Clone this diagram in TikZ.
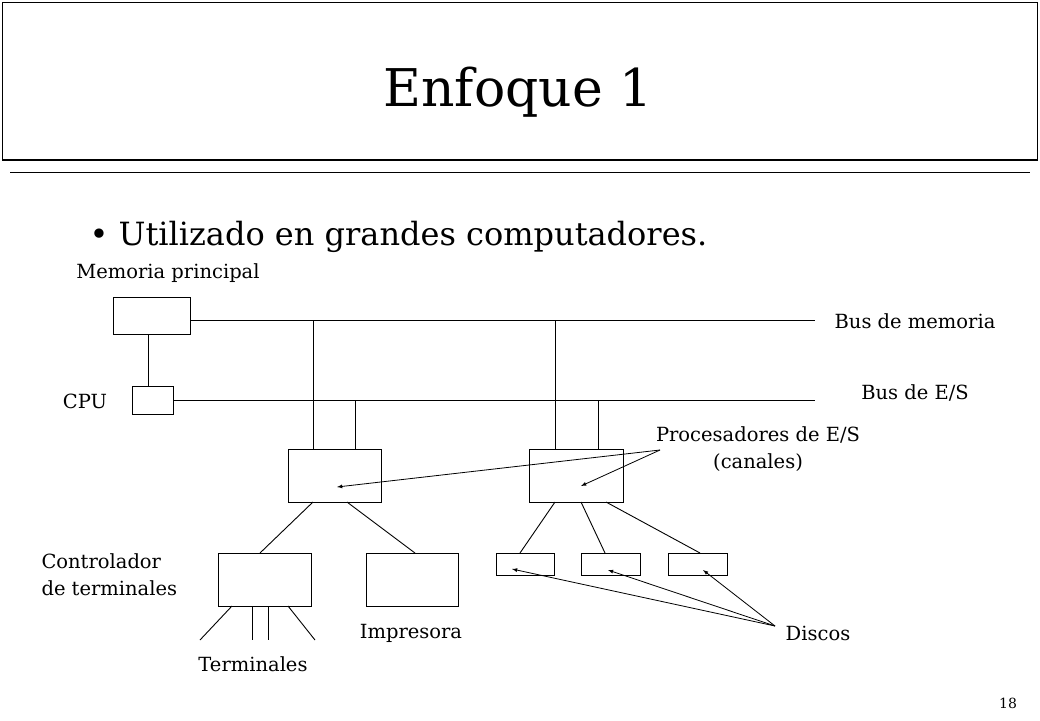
\documentclass[tikz,border=0pt]{standalone}
\usepackage{fontspec}
\setmainfont{DejaVu Serif}
\begin{document}
\begin{tikzpicture}[x=1pt,y=-1pt,
 bx/.style={draw,line width=0.9pt},
 ln/.style={line width=0.9pt},
 lab/.style={font=\fontsize{19.5}{23}\selectfont},
 arr/.style={-latex,line width=0.8pt}]
\useasboundingbox (0,0) rectangle (1040,720);
\draw[line width=0.8pt] (2,2) rectangle (1037,160);
\draw[line width=2pt] (2,160) -- (1037,160);
\draw[line width=0.8pt] (10,172) -- (1030,172);
\node (title) at (518,92) {\fontsize{52}{60}\selectfont Enfoque 1};
\node[anchor=west] (bul) at (86,237) {\fontsize{32}{36}\selectfont •\ Utilizado en grandes computadores.};
\node[lab] (lmem) at (168,273) {Memoria principal};
\node[bx,minimum width=77pt,minimum height=37pt] (mem) at (151.5,315.5) {};
\node[bx,minimum width=41pt,minimum height=28pt] (cpu) at (152.5,400) {};
\node[lab] (lcpu) at (85,401) {CPU};
\coordinate (mbE) at (815,320);
\coordinate (ebE) at (815,400);
\draw[ln] (mem.east |- 0,320) -- (mbE);
\draw[ln] (cpu.east) -- (ebE);
\draw[ln] (148,334) -- (148,386);
\node[lab] (lmb) at (915,321) {Bus de memoria};
\node[lab] (leb) at (915,393) {Bus de E/S};
\node[bx,minimum width=93pt,minimum height=53pt] (p1) at (334.5,475.5) {};
\node[bx,minimum width=94pt,minimum height=53pt] (p2) at (576,475.5) {};
\draw[ln] (313,449) -- (313,320);
\draw[ln] (355,449) -- (355,400);
\draw[ln] (555,449) -- (555,320);
\draw[ln] (598,449) -- (598,400);
\node[lab,align=center] (lproc) at (758,449) {Procesadores de E/S\\[4pt](canales)};
\coordinate (pa) at (660,450);
\draw[arr] (pa) -- (337,487);
\draw[arr] (pa) -- (581,486);
\node[bx,minimum width=93pt,minimum height=53pt] (ct) at (264.5,579.5) {};
\node[bx,minimum width=92pt,minimum height=53pt] (imp) at (412,579.5) {};
\draw[ln] (313,502) -- (260,553);
\draw[ln] (347,502) -- (415,553);
\node[lab,align=left,anchor=west] (lct) at (38,575) {Controlador\\[4pt]de terminales};
\node[lab] (limp) at (411,633) {Impresora};
\draw[ln] (232,606) -- (200,640);
\draw[ln] (252,606) -- (252,640);
\draw[ln] (268,606) -- (268,640);
\draw[ln] (288,606) -- (315,640);
\node[lab] (lterm) at (253,664) {Terminales};
\node[bx,minimum width=58pt,minimum height=22pt] (d1) at (525,564) {};
\node[bx,minimum width=59pt,minimum height=22pt] (d2) at (610.5,564) {};
\node[bx,minimum width=59pt,minimum height=22pt] (d3) at (697.5,564) {};
\draw[ln] (555,502) -- (520,553);
\draw[ln] (581,502) -- (605,553);
\draw[ln] (606,502) -- (700,553);
\node[lab] (ldis) at (818,633) {Discos};
\coordinate (da) at (775,626);
\draw[arr] (da) -- (512,569);
\draw[arr] (da) -- (608,570);
\draw[arr] (da) -- (703,570);
\node (pg) at (1008,703) {\fontsize{14}{16}\selectfont 18};
\end{tikzpicture}
\end{document}
